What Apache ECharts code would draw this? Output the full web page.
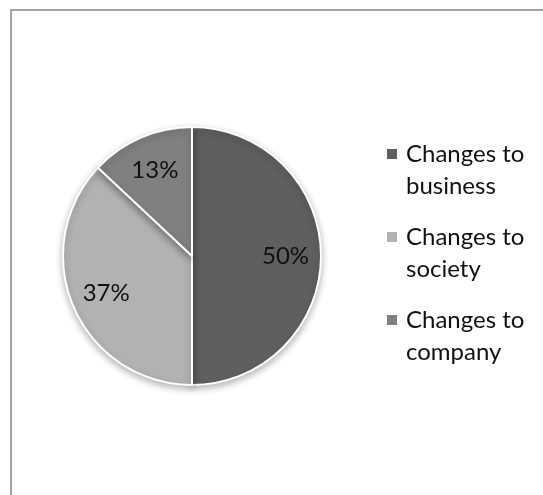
<!DOCTYPE html>
<html>
<head>
<meta charset="utf-8">
<script src="https://cdn.jsdelivr.net/npm/echarts@6/dist/echarts.min.js"></script>
<style>
  html, body { margin: 0; padding: 0; background: #fff; }
  #chart { width: 543px; height: 495px; }
</style>
</head>
<body>
<div id="chart"></div>
<script>
// Share of changes by area
const categories = ['Changes to business', 'Changes to society', 'Changes to company'];
const legendLabels = ['Changes to\nbusiness', 'Changes to\nsociety', 'Changes to\ncompany'];
const shares = [50, 37, 13];
const sliceColors = ['#5f5f5f', '#b2b2b2', '#808080'];

const FONT = 'Lato';
const CX = 192, CY = 256, R = 129;

const sliceData = categories.map((name, i) => ({
  name: name,
  value: shares[i],
  itemStyle: { color: sliceColors[i] }
}));

const chart = echarts.init(document.getElementById('chart'), null, { renderer: 'canvas' });

chart.setOption({
  backgroundColor: '#ffffff',
  animation: false,
  graphic: [{
    type: 'rect',
    silent: true,
    shape: { x: 11, y: 10, width: 600, height: 600 },
    style: { fill: 'none', stroke: '#a3a3a3', lineWidth: 2 }
  }],
  legend: {
    orient: 'vertical',
    left: 385,
    top: 106,
    padding: 0,
    itemWidth: 12,
    itemHeight: 12,
    itemGap: -13,
    icon: 'rect',
    selectedMode: false,
    data: categories,
    // a blank leading line keeps the marker level with the first text line
    formatter: name => '\n' + legendLabels[categories.indexOf(name)],
    textStyle: {
      fontFamily: FONT,
      fontSize: 24,
      color: '#111',
      lineHeight: 32,
      padding: [0, 0, 0, 3]
    }
  },
  series: [
    {
      type: 'pie',
      center: [CX, CY],
      radius: [0, R],
      startAngle: 90,
      clockwise: true,
      data: sliceData,
      label: { show: false },
      labelLine: { show: false },
      emphasis: { disabled: true },
      itemStyle: {
        borderColor: '#ffffff',
        borderWidth: 2,
        shadowColor: 'rgba(0,0,0,0.28)',
        shadowBlur: 7,
        shadowOffsetY: 3
      }
    },
    {
      // transparent ring used only to place the percentage labels
      type: 'pie',
      silent: true,
      center: [CX, CY],
      radius: [52, R],
      startAngle: 90,
      clockwise: true,
      data: categories.map((name, i) => ({ name: name, value: shares[i] })),
      itemStyle: { color: 'rgba(0,0,0,0)' },
      emphasis: { disabled: true },
      labelLine: { show: false },
      label: {
        show: true,
        position: 'inside',
        formatter: '{c}%',
        fontFamily: FONT,
        fontSize: 24,
        color: '#111',
        padding: [4, 0, 0, 0]
      }
    }
  ]
});
</script>
</body>
</html>
